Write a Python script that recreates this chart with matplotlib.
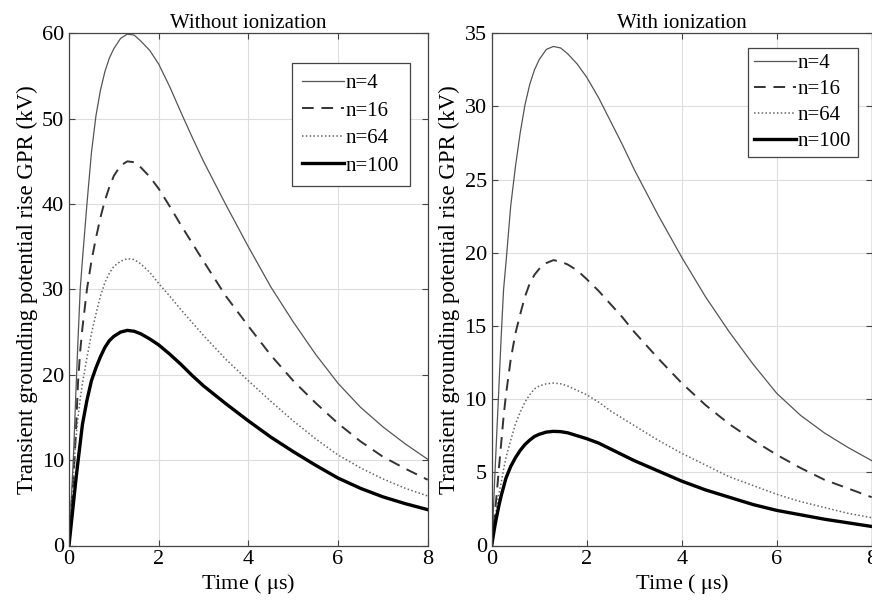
import matplotlib
matplotlib.use("Agg")
import matplotlib.pyplot as plt

plt.rcParams['font.family'] = ['Liberation Serif', 'DejaVu Serif']
plt.rcParams['mathtext.fontset'] = 'stix'

t = [0, 0.03, 0.06, 0.1, 0.15, 0.2, 0.25, 0.3, 0.4, 0.5, 0.6, 0.7, 0.8, 0.9, 1.0,
     1.15, 1.3, 1.45, 1.6, 1.8, 2.0, 2.25, 2.5, 2.75, 3.0, 3.5, 4.0, 4.5, 5.0,
     5.5, 6.0, 6.5, 7.0, 7.5, 8.0]

labels = ["n=4", "n=16", "n=64", "n=100"]

# Without ionization (kV)
wo_n4 = [0, 3.0, 6.3, 10.5, 17.5, 24.0, 30.0, 33.5, 40.0, 46.0, 50.3, 53.3, 55.5, 57.1, 58.2,
         59.4, 59.9, 59.8, 59.1, 58.0, 56.4, 53.7, 50.7, 47.8, 45.0, 39.9, 35.0, 30.3, 26.2,
         22.4, 19.0, 16.2, 13.9, 11.9, 10.1]
wo_n16 = [0, 2.5, 5.0, 7.8, 12.8, 19.0, 22.8, 25.5, 30.0, 33.3, 36.0, 38.4, 40.4, 42.0, 43.3,
          44.5, 45.0, 44.9, 44.3, 43.2, 41.8, 39.7, 37.5, 35.4, 33.3, 29.2, 25.7, 22.3, 19.3,
          16.7, 14.3, 12.2, 10.4, 9.0, 7.7]
wo_n64 = [0, 3.0, 5.5, 8.5, 12.3, 15.0, 17.2, 19.0, 22.0, 24.8, 27.1, 29.2, 30.8, 31.9, 32.7,
          33.3, 33.6, 33.5, 33.0, 32.0, 30.7, 29.2, 27.6, 26.1, 24.6, 21.8, 19.3, 16.9, 14.6,
          12.5, 10.6, 9.1, 7.8, 6.7, 5.8]
wo_n100 = [0, 1.5, 3.0, 5.0, 7.5, 9.8, 12.0, 14.2, 17.0, 19.3, 20.8, 22.1, 23.2, 24.0, 24.5,
           25.0, 25.2, 25.1, 24.8, 24.2, 23.5, 22.4, 21.2, 19.9, 18.7, 16.6, 14.6, 12.7, 11.0,
           9.4, 7.9, 6.7, 5.7, 4.9, 4.2]

# With ionization (kV)
wi_n4 = [0, 2.0, 4.3, 7.2, 10.7, 14.3, 17.5, 19.3, 23.2, 25.9, 28.2, 30.1, 31.5, 32.5, 33.2,
         33.9, 34.1, 34.0, 33.6, 32.9, 32.0, 30.6, 29.0, 27.4, 25.7, 22.6, 19.7, 17.0, 14.6,
         12.4, 10.4, 8.9, 7.7, 6.7, 5.8]
wi_n16 = [0, 1.0, 2.0, 3.3, 5.2, 7.0, 8.8, 10.3, 12.7, 14.5, 15.8, 17.0, 17.9, 18.5, 18.9,
          19.3, 19.5, 19.4, 19.2, 18.8, 18.2, 17.4, 16.5, 15.6, 14.6, 12.8, 11.1, 9.6, 8.3,
          7.2, 6.2, 5.3, 4.5, 3.9, 3.3]
wi_n64 = [0, 0.8, 1.6, 2.5, 3.5, 4.3, 5.2, 6.0, 7.2, 8.3, 9.1, 9.8, 10.3, 10.7, 10.9,
          11.05, 11.1, 11.05, 10.9, 10.6, 10.3, 9.8, 9.2, 8.7, 8.2, 7.2, 6.3, 5.5, 4.7,
          4.1, 3.5, 3.0, 2.6, 2.2, 1.9]
wi_n100 = [0, 0.6, 1.2, 1.9, 2.7, 3.4, 4.0, 4.6, 5.4, 6.0, 6.5, 6.9, 7.2, 7.45, 7.6,
           7.75, 7.8, 7.78, 7.7, 7.5, 7.3, 7.0, 6.6, 6.2, 5.8, 5.1, 4.4, 3.8, 3.3,
           2.8, 2.4, 2.1, 1.8, 1.55, 1.3]

styles = [
    dict(color='#555555', lw=0.9, ls='-'),
    dict(color='#333333', lw=1.4, ls=(0, (6, 4))),
    dict(color='#666666', lw=1.1, ls=(0, (1, 1.5))),
    dict(color='#000000', lw=2.4, ls='-'),
]

W, H = 872, 609
fig = plt.figure(figsize=(W / 100, H / 100), dpi=100)

def px_axes(x0, x1, ytop, ybot):
    return fig.add_axes([x0 / W, 1 - ybot / H, (x1 - x0) / W, (ybot - ytop) / H])

ax1 = px_axes(69, 427.7, 33.3, 545.5)
ax2 = px_axes(491.7, 871.7, 33.3, 545.5)

panels = [
    (ax1, [wo_n4, wo_n16, wo_n64, wo_n100], 60, 10, "Without ionization",
     (0.95, 0.942), 0.5, 0.38),
    (ax2, [wi_n4, wi_n16, wi_n64, wi_n100], 35, 5, "With ionization",
     (0.963, 0.972), 0.3, 0.3),
]

for ax, series, ymax, ystep, title, anchor, bpad, lspace in panels:
    for s, st, lab in zip(series, styles, labels):
        ax.plot(t, s, label=lab, **st)
    ax.set_xlim(0, 8)
    ax.set_ylim(0, ymax)
    ax.set_xticks([0, 2, 4, 6, 8])
    ax.set_yticks(list(range(0, ymax + 1, ystep)))
    ax.grid(True, color='#dddddd', lw=0.8)
    ax.tick_params(direction='in', top=True, right=True, labelsize=16,
                   length=4, color='#444444')
    for sp in ax.spines.values():
        sp.set_color('#444444')
        sp.set_linewidth(0.9)
    ax.set_title(title, fontsize=15, pad=4)
    ax.set_xlabel(r"Time ( $\mathrm{\mu}$s)", fontsize=16, labelpad=2)
    ax.set_ylabel("Transient grounding potential rise GPR (kV)", fontsize=16.5, labelpad=3)
    leg = ax.legend(loc='upper right', bbox_to_anchor=anchor, fontsize=15,
                    handlelength=2.0, handletextpad=0.1, borderpad=bpad,
                    labelspacing=lspace, fancybox=False, framealpha=1,
                    edgecolor='#444444', borderaxespad=0)
    leg.get_frame().set_linewidth(0.9)

fig.savefig("out.png", dpi=100)
